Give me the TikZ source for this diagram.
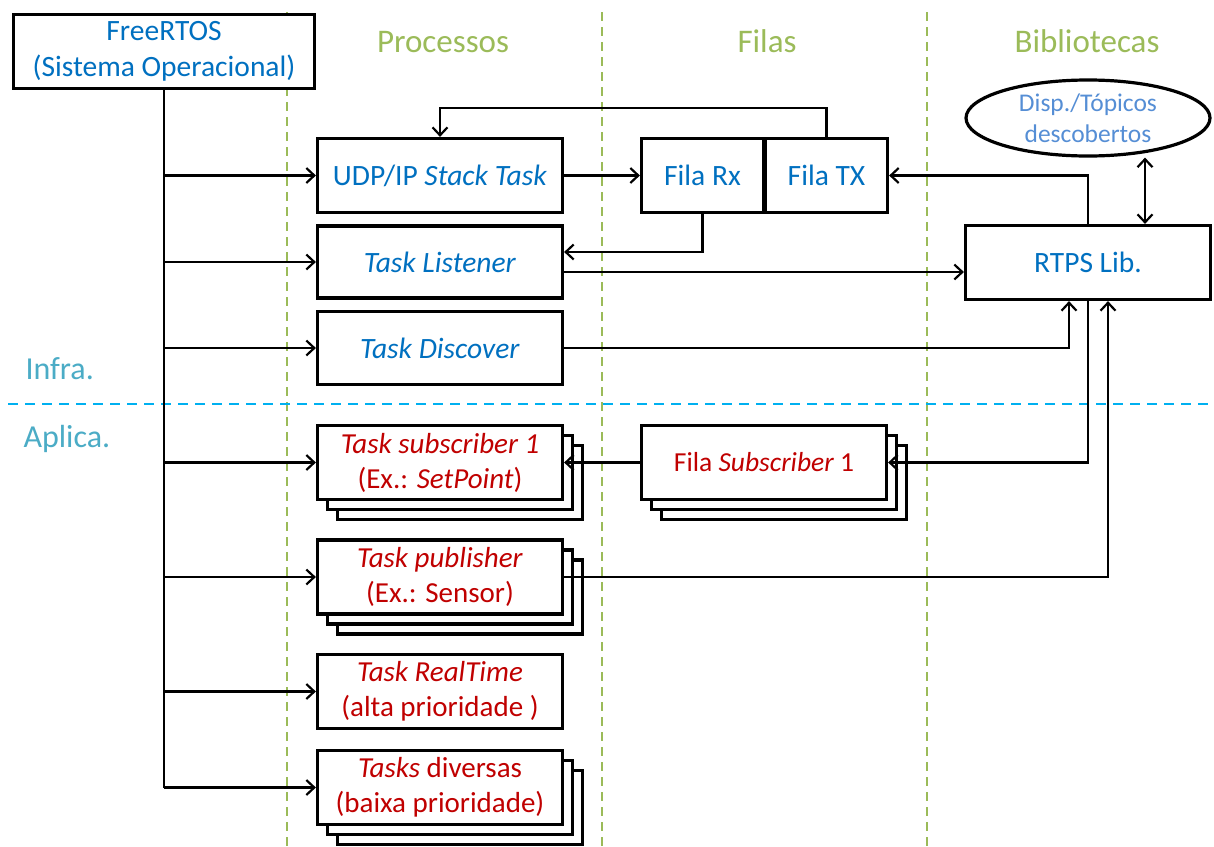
\documentclass[tikz,border=0pt]{standalone}
\usepackage{fontspec}
\setmainfont{Carlito}
\usetikzlibrary{arrows.meta,shapes.geometric}

\definecolor{txtblue}{HTML}{0070C0}
\definecolor{txtred}{HTML}{C00000}
\definecolor{colgreen}{HTML}{9BBB59}
\definecolor{layerblue}{HTML}{00B0F0}
\definecolor{layertext}{HTML}{4BACC6}
\definecolor{elltext}{HTML}{558ED5}

% three stacked copies of a task box: two blank sheets behind the labelled one
\newcommand\taskstack[4]{% name, style, centre, text
  \node[#2, xshift=20pt, yshift=-20pt] (#1-c) at (#3) {};
  \node[#2, xshift=10pt, yshift=-10pt] (#1-b) at (#3) {};
  \node[#2] (#1) at (#3) {#4};
}

\begin{document}
\begin{tikzpicture}[x=1pt, y=-1pt,
  >={Straight Barb[length=8pt,width=15pt]},
  box/.style={draw, line width=3.2pt, fill=white, inner sep=0pt, align=center,
    minimum width=245pt, minimum height=74pt, text=txtblue,
    font=\fontsize{29.5}{36}\selectfont},
  redbox/.style={box, text=txtred, font=\fontsize{29}{35}\selectfont},
  link/.style={line width=2.2pt, ->},
  wire/.style={line width=2.2pt},
  column/.style={colgreen, line width=2pt, dash pattern=on 9pt off 6pt},
  coltitle/.style={anchor=base, text=colgreen, font=\fontsize{33}{40}\selectfont},
  layertitle/.style={anchor=base west, text=layertext, font=\fontsize{32}{38}\selectfont}]

\fill[white] (0,0) rectangle (1214,846);
\useasboundingbox (0,0) rectangle (1214,846);

% column separators and layer separator
\draw[column] (287,12) -- (287,846);
\draw[column] (602,12) -- (602,846);
\draw[column] (927,12) -- (927,846);
\draw[layerblue, line width=2pt, dash pattern=on 10pt off 7pt] (8,404) -- (1214,404);

% titles
\node[coltitle] (tproc) at (443,52) {Processos};
\node[coltitle] (tfila) at (767,52) {Filas};
\node[coltitle] (tbib) at (1087,52) {Bibliotecas};
\node[layertitle] (tinfra) at (22,379) {Infra.};
\node[layertitle] (taplic) at (20,447) {Aplica.};

% operating system
\node[box, minimum width=301pt] (os) at (164,51.5) {FreeRTOS\\(Sistema Operacional)};

% infrastructure tasks
\node[box] (udp) at (440,175.5) {UDP/IP \textit{Stack Task}};
\node[box, minimum height=72pt] (lis) at (440,262) {\textit{Task Listener}};
\node[box, minimum height=73pt] (dis) at (440,348) {\textit{Task Discover}};

% queues
\node[box, minimum width=122pt] (frx) at (702.5,175.5) {Fila Rx};
\node[box, minimum width=122pt] (ftx) at (826.5,175.5) {Fila TX};

% library
\node[box] (rtps) at (1088,262.5) {RTPS Lib.};
\node[draw, ellipse, line width=3.2pt, fill=white, minimum width=244pt, minimum height=76pt,
  inner sep=0pt, align=center, text=elltext, font=\fontsize{25.5}{31}\selectfont]
  (ell) at (1088,118) {Disp./Tópicos\\descobertos};

% application tasks
\taskstack{sub}{redbox}{440,462.5}{\textit{Task subscriber 1}\\(Ex.: \textit{SetPoint})}
\taskstack{pub}{redbox}{440,577}{\textit{Task publisher}\\(Ex.: Sensor)}
\node[redbox] (rt) at (440,691.5) {\textit{Task RealTime}\\(alta prioridade )};
\taskstack{div}{redbox}{440,787.5}{\textit{Tasks} diversas\\(baixa prioridade)}
\taskstack{fsub}{redbox, font=\fontsize{27.5}{33}\selectfont}{764,462.5}{Fila \textit{Subscriber} 1}

% scheduler trunk
\draw[wire] (os.south) -- (os.south |- div.west);
\foreach \t in {udp,lis,dis,sub,pub,rt,div}
  \draw[link] (os.south |- \t.west) -- (\t.west);

% data flow
\draw[link] (udp.east) -- (frx.west);
\draw[link] (ftx.north) -- ++(0,-29) -| (udp.north);
\draw[link] (rtps.north) |- (ftx.east);
\draw[link] (frx.south) |- ([yshift=10pt]lis.east);
\draw[link] ([yshift=-10pt]lis.east) -- ([yshift=-10pt]lis.east -| rtps.west);
\draw[link] (dis.east) -| ([xshift=-19pt]rtps.south);
\draw[link] (rtps.south) |- (fsub.east);
\draw[link] (fsub.west) -- (sub.east);
\draw[link] (pub.east) -| ([xshift=20pt]rtps.south);
\draw[link, <->] ([xshift=57pt]rtps.north) -- ([xshift=57pt]ell.south);

\end{tikzpicture}
\end{document}
